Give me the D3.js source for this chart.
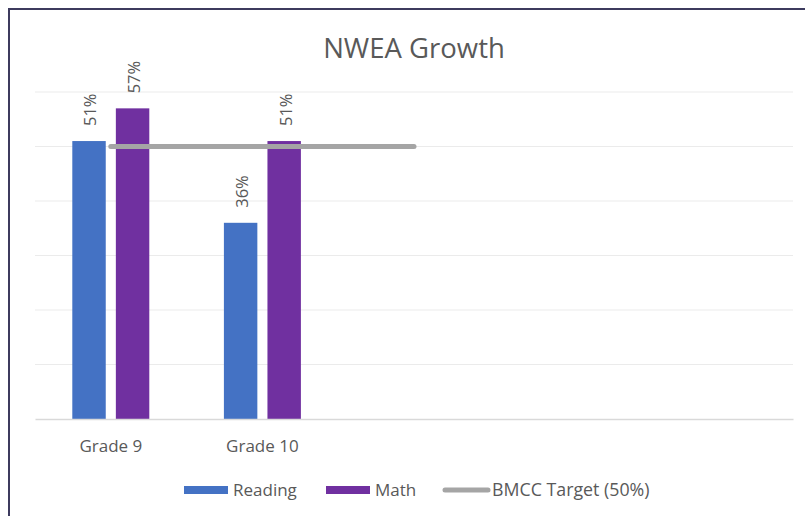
<!DOCTYPE html>
<html>
<head>
<meta charset="utf-8">
<script src="https://cdn.jsdelivr.net/npm/d3@7"></script>
<style>
  html, body { margin: 0; padding: 0; background: #ffffff; }
  svg { display: block; }
  text { font-family: "Open Sans", "Noto Sans", sans-serif; fill: #595959; }
</style>
</head>
<body>
<svg id="chart" width="805" height="516"></svg>
<script>
// ---- data ----
const categories = ["Grade 9", "Grade 10", "", "", ""];
const seriesNames = ["Reading", "Math"];
const reading = [51, 36, null, null, null];
const math = [57, 51, null, null, null];
const target = [50, 50, 50, null, null];
const targetName = "BMCC Target (50%)";
const yTicks = [0, 10, 20, 30, 40, 50, 60];
const title = "NWEA Growth";

const colors = { Reading: "#4472C4", Math: "#7030A0", target: "#A5A5A5" };

const svg = d3.select("#chart");

// frame border
svg.append("rect").attr("x", 9).attr("y", 9).attr("width", 900).attr("height", 700)
  .attr("fill", "#ffffff").attr("stroke", "#3d3b5e").attr("stroke-width", 2);

const plot = { left: 35, right: 793, top: 92, bottom: 419 };

const x = d3.scaleBand().domain(d3.range(categories.length))
  .range([plot.left, plot.right]).paddingInner(0).paddingOuter(0);
const groupW = 77;
const xs = d3.scaleBand().domain(seriesNames)
  .range([(x.bandwidth() - groupW) / 2, (x.bandwidth() + groupW) / 2])
  .paddingInner(0.232).paddingOuter(0);
const y = d3.scaleLinear().domain([0, 60]).range([plot.bottom, plot.top]);

// gridlines
svg.append("g").selectAll("line").data(yTicks.filter(t => t > 0)).join("line")
  .attr("x1", plot.left).attr("x2", plot.right)
  .attr("y1", d => y(d)).attr("y2", d => y(d))
  .attr("stroke", "#EBEBEB").attr("stroke-width", 1);

// bars
const seriesData = { Reading: reading, Math: math };
seriesNames.forEach(name => {
  const vals = seriesData[name];
  const g = svg.append("g");
  const pts = vals.map((v, i) => ({ i, v })).filter(d => d.v != null);
  g.selectAll("rect").data(pts).join("rect")
    .attr("x", d => x(d.i) + xs(name))
    .attr("y", d => y(d.v))
    .attr("width", xs.bandwidth())
    .attr("height", d => y(0) - y(d.v))
    .attr("fill", colors[name]);
  g.selectAll("text").data(pts).join("text")
    .attr("transform", d => `translate(${x(d.i) + xs(name) + xs.bandwidth() / 2 + 1.5},${y(d.v) - 15}) rotate(-90)`)
    .attr("text-anchor", "start")
    .attr("dy", "0.36em")
    .attr("font-size", 16.5)
    .text(d => d.v + "%");
});

// x axis
const xAxis = d3.axisBottom(x).tickSize(0).tickPadding(0).tickFormat(i => categories[i]);
const ax = svg.append("g").attr("transform", `translate(0,${plot.bottom})`).call(xAxis);
ax.select(".domain").attr("stroke", "#D9D9D9").attr("stroke-width", 1.5);
ax.selectAll(".tick text").attr("font-size", 17).attr("fill", "#595959")
  .attr("y", 0).attr("dy", "1.95em")
  .style("font-family", '"Open Sans", sans-serif');

// target line
const line = d3.line().defined(d => d.v != null)
  .x(d => x(d.i) + x.bandwidth() / 2).y(d => y(d.v));
svg.append("path").datum(target.map((v, i) => ({ i, v })))
  .attr("d", line).attr("fill", "none")
  .attr("stroke", colors.target).attr("stroke-width", 5).attr("stroke-linecap", "round");

// title
svg.append("text").attr("x", 414).attr("y", 58).attr("text-anchor", "middle")
  .attr("font-size", 27.5).text(title);

// legend
const lg = svg.append("g");
const ly = 490;
lg.append("rect").attr("x", 184).attr("y", ly - 4).attr("width", 44).attr("height", 8).attr("fill", colors.Reading);
lg.append("text").attr("x", 233).attr("y", ly).attr("dy", "0.35em").attr("font-size", 17).text(seriesNames[0]);
lg.append("rect").attr("x", 326).attr("y", ly - 4).attr("width", 44).attr("height", 8).attr("fill", colors.Math);
lg.append("text").attr("x", 375).attr("y", ly).attr("dy", "0.35em").attr("font-size", 17).text(seriesNames[1]);
lg.append("line").attr("x1", 445).attr("x2", 488).attr("y1", ly).attr("y2", ly)
  .attr("stroke", colors.target).attr("stroke-width", 5).attr("stroke-linecap", "round");
lg.append("text").attr("x", 492).attr("y", ly).attr("dy", "0.35em").attr("font-size", 17.8).text(targetName);
</script>
</body>
</html>
